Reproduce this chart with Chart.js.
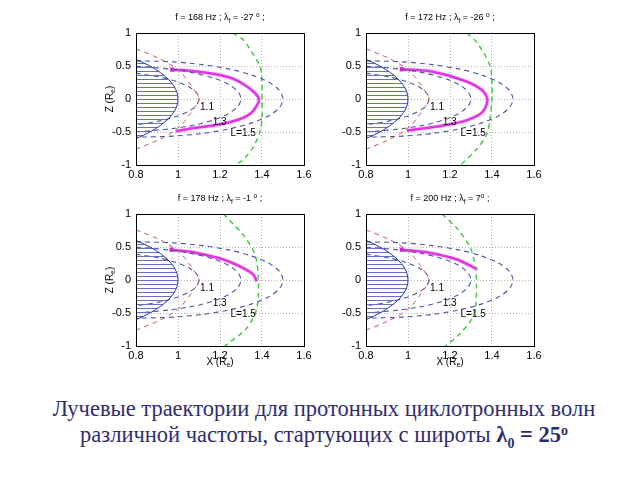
<!DOCTYPE html>
<html>
<head>
<meta charset="utf-8">
<script src="https://cdn.jsdelivr.net/npm/chart.js@4.4.0/dist/chart.umd.min.js"></script>
<style>
  body { margin: 0; background: #fff; width: 640px; height: 480px; position: relative; overflow: hidden; }
  canvas { position: absolute; }
  #caption {
    position: absolute; left: 0; top: 396px; width: 648px; text-align: center;
    font-family: "Liberation Serif", "Times New Roman", serif; font-size: 22.5px; line-height: 26px; color: #2e2e6e;
  }
  #caption sub { font-size: 14px; vertical-align: -6px; line-height: 0; }
  #caption sup { font-size: 14px; vertical-align: 7px; line-height: 0; }
</style>
</head>
<body>
<canvas id="c0" width="248" height="202" style="left:76px;top:3px"></canvas>
<canvas id="c1" width="248" height="202" style="left:306px;top:3px"></canvas>
<canvas id="c2" width="248" height="202" style="left:76px;top:184px"></canvas>
<canvas id="c3" width="248" height="202" style="left:306px;top:184px"></canvas>
<div id="caption">Лучевые траектории для протонных циклотронных волн<br>различной частоты, стартующих с широты <b>λ<sub>0</sub> = 25<sup>o</sup></b></div>

<script>
// axes
const xTicks = [0.8, 1, 1.2, 1.4, 1.6];
const zTicks = [-1, -0.5, 0, 0.5, 1];

// panel titles
const freqs = [168, 172, 178, 200];
const lambdaF = [-27, -26, -1, 7];

// Earth surface, northern half (x, z in Re)
const earthTop = [[0.8, 0.6], [0.835, 0.55], [0.866, 0.5], [0.893, 0.45], [0.9165, 0.4], [0.9367, 0.35],
  [0.9539, 0.3], [0.968, 0.25], [0.9798, 0.2], [0.9887, 0.15], [0.995, 0.1], [0.9987, 0.05], [1, 0]];

// field lines, northern half, ending at the equator
const fieldL11 = [[0.799, 0.39], [0.819, 0.382], [0.913, 0.332], [0.991, 0.266], [1.051, 0.185], [1.088, 0.095], [1.1, 0]];
const fieldL13 = [[0.8, 0.495], [0.844, 0.488], [0.968, 0.451], [1.079, 0.393], [1.172, 0.314], [1.242, 0.219], [1.285, 0.113], [1.3, 0]];
const fieldL15 = [[0.8, 0.577], [0.825, 0.577], [0.974, 0.563], [1.117, 0.521], [1.245, 0.453], [1.352, 0.362], [1.433, 0.253], [1.483, 0.13], [1.5, 0]];

// red dashed surface, northern half
const redTop = [[0.8, 0.76], [0.9, 0.63], [0.975, 0.5], [1.02, 0.38], [1.05, 0.26], [1.085, 0.1], [1.1, 0]];

// green dashed surface, one per panel
const green168 = [[1.26, 1], [1.31, 0.9], [1.35, 0.72], [1.39, 0.5], [1.40, 0.3], [1.40, 0], [1.40, -0.3], [1.39, -0.5], [1.36, -0.72], [1.31, -0.92], [1.27, -1]];
const green172 = [[1.28, 1], [1.33, 0.85], [1.39, 0.51], [1.40, 0.25], [1.40, 0], [1.39, -0.3], [1.377, -0.52], [1.33, -0.75], [1.25, -1]];
const green178 = [[1.216, 1], [1.311, 0.68], [1.367, 0.38], [1.383, 0], [1.375, -0.43], [1.327, -0.73], [1.224, -1]];
const green200 = [[1.162, 1], [1.234, 0.78], [1.298, 0.48], [1.322, 0.18], [1.326, -0.1], [1.322, -0.4], [1.306, -0.58], [1.242, -0.83], [1.178, -1]];

// ray trajectories, one per panel
const ray168 = [[0.973, 0.445], [1.08, 0.42], [1.187, 0.37], [1.26, 0.31], [1.314, 0.22], [1.36, 0.11], [1.385, 0], [1.375, -0.1], [1.346, -0.22], [1.29, -0.31], [1.187, -0.39], [1.076, -0.44], [0.989, -0.49]];
const ray172 = [[0.971, 0.45], [1.106, 0.42], [1.266, 0.28], [1.354, 0.13], [1.378, -0.02], [1.354, -0.2], [1.282, -0.32], [1.17, -0.4], [0.995, -0.48]];
const ray178 = [[0.97, 0.46], [1.089, 0.41], [1.216, 0.31], [1.311, 0.18], [1.359, 0.08], [1.375, -0.02]];
const ray200 = [[0.971, 0.46], [1.106, 0.41], [1.234, 0.31], [1.33, 0.16]];

const greens = [green168, green172, green178, green200];
const rays = [ray168, ray172, ray178, ray200];
const curveLabels = ["1.1", "1.3", "L=1.5"];

const FONT = '"Liberation Sans", Arial, sans-serif';

const pts = (arr) => arr.map(([x, y]) => ({ x, y }));
const south = (arr) => arr.map(([x, z]) => [x, -z]);
const wholeLine = (top) => top.concat(south(top.slice(0, -1)).reverse());

function hatch() {
  const c = document.createElement("canvas");
  c.width = 8;
  c.height = 4;
  const g = c.getContext("2d");
  g.fillStyle = "#6672b9";
  g.fillRect(0, 0, 8, 1);
  return g.createPattern(c, "repeat");
}

function dashed(data, color, width) {
  return { data: pts(data), showLine: true, borderColor: color, borderWidth: width || 1, borderDash: [5, 4], pointRadius: 0, tension: 0.3, fill: false };
}

// draws runs of text with sub/superscripts, centred on cx
function drawRuns(ctx, runs, cx, cy) {
  let total = 0;
  runs.forEach(r => { ctx.font = r.s + "px " + FONT; r.w = ctx.measureText(r.t).width; total += r.w; });
  let x = cx - total / 2;
  runs.forEach(r => {
    ctx.font = r.s + "px " + FONT;
    ctx.fillText(r.t, x, cy + r.dy);
    x += r.w;
  });
}

function panelText(idx, showX, showY) {
  return {
    id: "panelText" + idx,
    afterDraw(chart) {
      const { ctx, chartArea: a, scales: { x, y } } = chart;
      ctx.save();
      ctx.strokeStyle = "#000";
      ctx.lineWidth = 1;
      ctx.strokeRect(Math.round(a.left) + 0.5, Math.round(a.top) + 0.5, Math.round(a.width), Math.round(a.height));

      ctx.fillStyle = "#000";
      ctx.textBaseline = "middle";
      ctx.textAlign = "left";
      ctx.font = "10px " + FONT;
      const spots = [[1.105, -0.12], [1.165, -0.35], [1.25, -0.52]];
      curveLabels.forEach((t, i) => ctx.fillText(t, x.getPixelForValue(spots[i][0]), y.getPixelForValue(spots[i][1])));

      const gap = lambdaF[idx] > 0 ? "" : " ";
      drawRuns(ctx, [
        { t: "f = " + freqs[idx] + " Hz ; λ", s: 9, dy: 0 },
        { t: "f", s: 6.5, dy: 3 },
        { t: " = " + lambdaF[idx] + gap, s: 9, dy: 0 },
        { t: "o", s: 6.5, dy: -3 },
        { t: " ;", s: 9, dy: 0 }
      ], (a.left + a.right) / 2, a.top - 15);

      if (showX) {
        drawRuns(ctx, [
          { t: "X (R", s: 10, dy: 0 },
          { t: "e", s: 7, dy: 3 },
          { t: ")", s: 10, dy: 0 }
        ], (a.left + a.right) / 2, a.bottom + 16);
      }
      if (showY) {
        ctx.translate(a.left - 26, (a.top + a.bottom) / 2);
        ctx.rotate(-Math.PI / 2);
        drawRuns(ctx, [
          { t: "Z (R", s: 10, dy: 0 },
          { t: "e", s: 7, dy: 3 },
          { t: ")", s: 10, dy: 0 }
        ], 0, 0);
      }
      ctx.restore();
    }
  };
}

function makePanel(idx) {
  const pattern = hatch();
  const ray = rays[idx];
  const showX = idx >= 2;
  const showY = idx % 2 === 0;
  new Chart(document.getElementById("c" + idx), {
    type: "scatter",
    data: {
      datasets: [
        { data: pts(earthTop), showLine: true, fill: "origin", backgroundColor: pattern, borderColor: "#2433a3", borderWidth: 1, pointRadius: 0, tension: 0 },
        { data: pts(south(earthTop)), showLine: true, fill: "origin", backgroundColor: pattern, borderColor: "#2433a3", borderWidth: 1, pointRadius: 0, tension: 0 },
        dashed(wholeLine(redTop), "#c45c5c"),
        dashed(wholeLine(fieldL11), "#4d58ab", 1.1),
        dashed(wholeLine(fieldL13), "#4d58ab", 1.1),
        dashed(wholeLine(fieldL15), "#4d58ab", 1.1),
        dashed(greens[idx], "#45cc45", 1.5),
        { data: pts(ray), showLine: true, borderColor: "rgba(232,120,232,0.35)", borderWidth: 4, pointRadius: 0, tension: 0.3 },
        {
          data: pts(ray), showLine: true, borderColor: "#e010e0", borderWidth: 2.5, tension: 0.3,
          pointRadius: (c) => (c.dataIndex === 0 ? 3 : 0), pointStyle: "rect", backgroundColor: "#e010e0", pointBorderWidth: 0
        }
      ]
    },
    options: {
      responsive: false,
      animation: false,
      devicePixelRatio: 1,
      layout: { padding: { top: 30, right: 20, left: 0, bottom: 0 } },
      plugins: { legend: { display: false }, tooltip: { enabled: false } },
      scales: {
        x: {
          type: "linear", min: 0.8, max: 1.6,
          afterBuildTicks: (s) => { s.ticks = xTicks.map(v => ({ value: v })); },
          afterFit: (s) => { s.height = 40; },
          ticks: { font: { family: FONT, size: 11 }, color: "#000", padding: 3, maxRotation: 0, callback: (v) => String(v) },
          grid: { color: "#b4b4b4", drawTicks: false },
          border: { display: false, dash: [1, 2] }
        },
        y: {
          type: "linear", min: -1, max: 1,
          afterBuildTicks: (s) => { s.ticks = zTicks.map(v => ({ value: v })); },
          afterFit: (s) => { s.width = 60; },
          ticks: { font: { family: FONT, size: 11 }, color: "#000", padding: 5, callback: (v) => String(v) },
          grid: { color: "#b4b4b4", drawTicks: false },
          border: { display: false, dash: [1, 2] }
        }
      }
    },
    plugins: [panelText(idx, showX, showY)]
  });
}

[0, 1, 2, 3].forEach(makePanel);
</script>
</body>
</html>
